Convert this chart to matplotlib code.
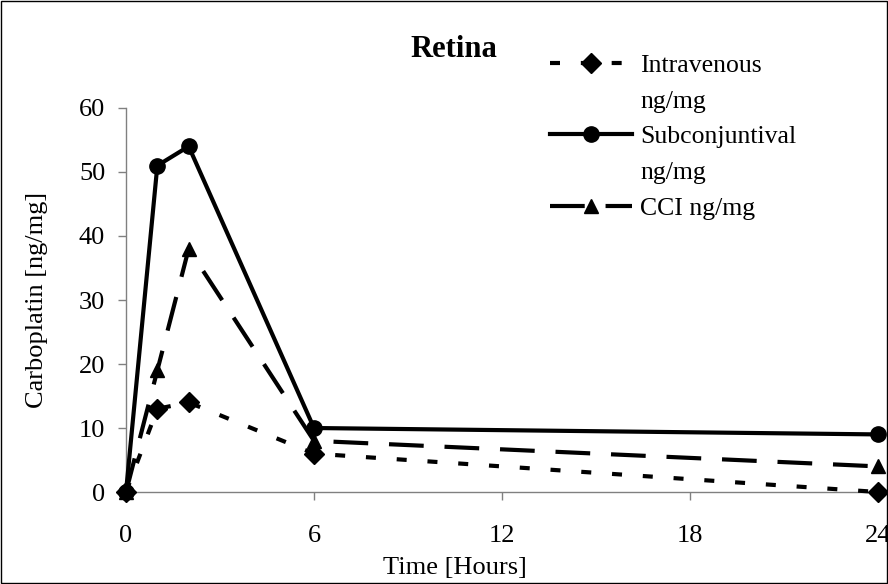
import matplotlib
matplotlib.use("Agg")
import matplotlib.pyplot as plt
from matplotlib.lines import Line2D
from matplotlib.patches import Rectangle

# ---- data -------------------------------------------------------------
hours = [0, 1, 2, 6, 24]
intravenous = [0, 13, 14, 6, 0]
subconjuntival = [0, 51, 54, 10, 9]
cci = [0, 19, 38, 8, 4]

x_ticks = [0, 6, 12, 18, 24]
y_ticks = [0, 10, 20, 30, 40, 50, 60]

plt.rcParams["font.family"] = ["Liberation Serif", "DejaVu Serif"]
plt.rcParams["lines.scale_dashes"] = False

fig = plt.figure(figsize=(8.88, 5.84), dpi=100)
ax = fig.add_axes([0.1419, 0.1575, 0.8468, 0.6576])

lw = 3.0
dot_dash = (0, (7.2, 15.0))
long_dash = (0, (25.0, 15.0))

ax.plot(hours, intravenous, color="black", lw=lw, linestyle=dot_dash,
        marker="D", ms=10, clip_on=False, zorder=3)
ax.plot(hours, subconjuntival, color="black", lw=lw, linestyle="-",
        marker="o", ms=11, clip_on=False, zorder=3)
ax.plot(hours, cci, color="black", lw=lw, linestyle=long_dash,
        marker="^", ms=10.5, clip_on=False, zorder=3)

ax.set_xlim(0, 24)
ax.set_ylim(0, 60)
ax.set_xticks(x_ticks)
ax.set_yticks(y_ticks)
ax.tick_params(labelsize=19, direction="out", length=6, width=1,
               color="#808080")
ax.tick_params(axis="x", pad=18)
ax.tick_params(axis="y", pad=9)
for side in ["top", "right"]:
    ax.spines[side].set_visible(False)
for side in ["left", "bottom"]:
    ax.spines[side].set_color("#808080")
    ax.spines[side].set_linewidth(1)

ax.set_xlabel("Time [Hours]", fontsize=19)
ax.set_ylabel("Carboplatin [ng/mg]", fontsize=19)
ax.xaxis.set_label_coords(0.4375, -0.198)
ax.yaxis.set_label_coords(-0.118, 0.5)
ax.xaxis.label.set_va("center")
ax.yaxis.label.set_va("center")

fig.text(0.511, 0.916, "Retina", fontsize=22, fontweight="bold",
         ha="center", va="center")

# ---- legend (Excel style: wrapped labels, handle on first line) ------
blank = Line2D([], [], linestyle="none")
handles = [
    Line2D([], [], color="black", lw=lw, linestyle=dot_dash, marker="D", ms=10),
    blank,
    Line2D([], [], color="black", lw=lw, linestyle="-", marker="o", ms=11),
    blank,
    Line2D([], [], color="black", lw=lw, linestyle=long_dash, marker="^", ms=10.5),
]
labels = ["Intravenous", "ng/mg", "Subconjuntival", "ng/mg", "CCI ng/mg"]
fig.legend(handles, labels, loc="upper left", bbox_to_anchor=(0.605, 0.93),
           frameon=False, fontsize=18.5, handlelength=3.2, handletextpad=0.3,
           labelspacing=0.5, borderpad=0)

# figure border
fig.patches.append(Rectangle((0.001, 0.001), 0.998, 0.998, transform=fig.transFigure,
                             fill=False, edgecolor="black", lw=1))

fig.savefig("out.png", dpi=100)
